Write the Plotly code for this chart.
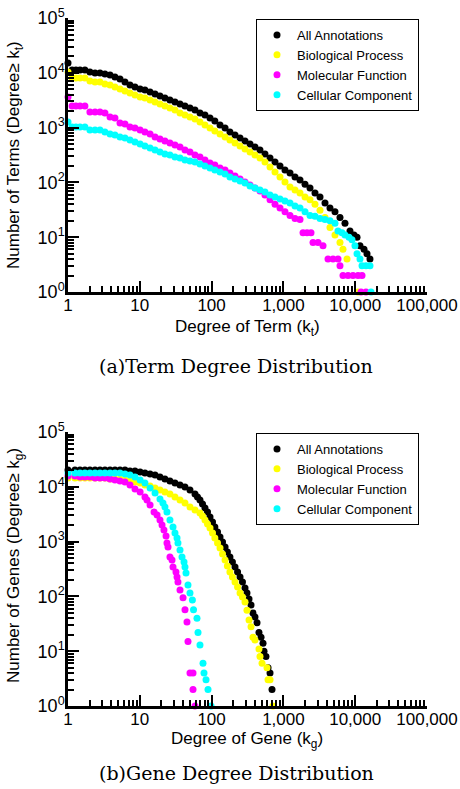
import plotly.graph_objects as go

# ---------------- (a) Term degree distribution ----------------
term_all_x = [1, 1.14, 1.29, 1.47, 1.72, 2.02, 2.38, 2.79, 3.27, 3.85, 4.51, 5.30, 6.22, 7.30, 8.57, 10.1,
              11.8, 13.9, 16.3, 19.1, 22.4, 26.3, 30.9, 36.3, 42.6, 50.0, 58.7, 68.9, 80.9, 95.0, 111, 131,
              154, 180, 212, 249, 292, 343, 402, 472, 554, 651, 764, 897, 1052, 1236, 1451, 1703, 2000,
              2347, 2755, 3234, 3796, 4456, 5231, 6140, 7207, 8460, 9620, 10600, 11660, 13270, 14600, 16060]
term_all_y = [15100, 11250, 11250, 11250, 11250, 10350, 9920, 9920, 9510, 9120, 8380, 7710, 6790, 5990, 5510,
              5060, 4850, 4460, 4100, 3780, 3470, 3190, 2930, 2700, 2480, 2280, 2090, 1850, 1700, 1500, 1320,
              1110, 984, 832, 733, 646, 569, 502, 443, 390, 330, 279, 236, 199, 168, 148, 126, 111, 93, 79,
              64, 54, 42, 34, 29, 23, 18, 13, 11, 10, 7, 6, 5, 4]

term_bp_x = [1, 1.14, 1.29, 1.47, 1.72, 2.02, 2.38, 2.79, 3.27, 3.85, 4.51, 5.30, 6.22, 7.30, 8.57, 10.1,
             11.8, 13.9, 16.3, 19.1, 22.4, 26.3, 30.9, 36.3, 42.6, 50.0, 58.7, 68.9, 80.9, 95.0, 111, 131,
             154, 180, 212, 249, 292, 343, 402, 472, 554, 651, 764, 897, 1052, 1236, 1451, 1703, 2000,
             2347, 2755, 3234, 3796, 4456, 5231, 6140, 6760, 7690, 10940]
term_bp_y = [10350, 8040, 8040, 8040, 8040, 7080, 6790, 6790, 6250, 5990, 5510, 5060, 4660, 4280, 3940, 3620,
             3470, 3190, 2930, 2700, 2480, 2280, 2090, 1850, 1700, 1560, 1435, 1270, 1110, 984, 867, 764,
             673, 594, 524, 462, 407, 359, 316, 279, 236, 191, 155, 126, 102, 82, 73, 64, 54, 48, 40, 31,
             23, 15, 11, 8, 6, 4, 1]

term_mf_x = [1, 1.14, 1.29, 1.47, 1.72, 2.02, 2.38, 2.79, 3.27, 3.85, 4.51, 5.30, 6.22, 7.30, 8.57, 10.1,
             11.8, 13.9, 16.3, 19.1, 22.4, 26.3, 30.9, 36.3, 42.6, 50.0, 58.7, 68.9, 80.9, 95.0, 111, 131,
             154, 180, 212, 249, 292, 343, 402, 472, 554, 651, 764, 897, 1052, 1236, 1451, 1703, 1875,
             2132, 2423, 2585, 3034, 3563, 4180, 4908, 5760, 6140, 6760, 7940, 9310, 10940, 12440, 12050,
             14130]
term_mf_y = [3620, 2480, 2480, 2480, 2480, 1930, 1930, 1930, 1850, 1560, 1500, 1210, 1160, 1030, 984, 904,
             832, 764, 673, 620, 569, 524, 481, 443, 390, 359, 316, 291, 256, 226, 208, 183, 168, 148, 131,
             115, 102, 90, 79, 70, 59, 48, 40, 34, 29, 25, 22, 21, 12, 12, 12, 8, 8, 7, 4, 4, 4, 3, 2, 2, 2,
             2, 2, 1, 1]

term_cc_x = [1, 1.14, 1.29, 1.47, 1.72, 2.02, 2.38, 2.79, 3.27, 3.85, 4.51, 5.30, 6.22, 7.30, 8.57, 10.1,
             11.8, 13.9, 16.3, 19.1, 22.4, 26.3, 30.9, 36.3, 42.6, 50.0, 58.7, 68.9, 80.9, 95.0, 111, 131,
             154, 180, 212, 249, 292, 343, 402, 472, 554, 651, 764, 897, 1052, 1236, 1451, 1703, 2000,
             2347, 2755, 3234, 3796, 4456, 5231, 5760, 6550, 7207, 8200, 9020, 9930, 10600, 11660, 12440,
             14130, 16060, 16600]
term_cc_y = [1270, 1030, 1030, 1030, 1030, 904, 904, 904, 832, 764, 733, 673, 646, 594, 546, 502, 462, 425,
             390, 359, 330, 316, 291, 279, 256, 246, 236, 217, 199, 183, 168, 155, 142, 126, 115, 106, 98,
             86, 79, 73, 67, 59, 54, 50, 46, 42, 37, 34, 29, 25, 24, 22, 21, 20, 18, 13, 12, 11, 10, 9, 7,
             5, 4, 3, 3, 3, 1]

# ---------------- (b) Gene degree distribution ----------------
gene_all_x = [1, 1.25, 1.47, 1.72, 2.02, 2.38, 2.79, 3.27, 3.85, 4.51, 5.30, 6.22, 7.30, 8.57, 10.1, 11.8,
              13.9, 16.3, 19.1, 22.4, 26.3, 30.9, 36.3, 42.6, 50.0, 58.7, 63.6, 68.9, 74.7, 80.9, 87.7, 95.0,
              103, 111, 121, 131, 142, 154, 166, 180, 195, 212, 230, 249, 269, 292, 311, 332, 354, 377, 402,
              429, 457, 488, 520, 537, 572, 611, 651, 694]
gene_all_y = [20300, 20300, 20300, 20300, 20300, 20300, 20300, 20300, 20300, 20300, 20300, 20300, 19400,
              19400, 18600, 17900, 17100, 16400, 15100, 13900, 12760, 11700, 10800, 9920, 8740, 7390, 6510,
              5750, 4850, 4100, 3470, 2810, 2280, 1850, 1500, 1210, 984, 797, 646, 524, 425, 344, 279, 226,
              183, 142, 115, 90, 70, 50, 42, 33, 22, 18, 14, 10, 8, 5, 4, 2]

gene_bp_x = [1, 1.25, 1.47, 1.72, 2.02, 2.38, 2.79, 3.27, 3.85, 4.51, 5.30, 6.22, 7.30, 8.57, 10.1, 11.8,
             13.9, 16.3, 19.1, 22.4, 26.3, 30.9, 36.3, 42.6, 50.0, 58.7, 68.9, 74.7, 80.9, 87.7, 95.0, 103,
             111, 121, 131, 142, 154, 166, 180, 195, 212, 230, 249, 269, 292, 311, 332, 354, 377, 402, 457,
             472, 504, 591, 611, 651, 716]
gene_bp_y = [14480, 14480, 14480, 14480, 14480, 14480, 14480, 14480, 13880, 13880, 13880, 13310, 12760,
             12240, 11730, 10790, 10350, 9510, 8740, 8040, 7390, 6510, 5750, 5060, 4280, 3780, 3330, 2930,
             2480, 2090, 1770, 1435, 1160, 943, 764, 594, 462, 359, 279, 226, 183, 148, 115, 97, 79, 56, 37,
             28, 18, 16, 11, 8, 6, 5, 3, 3, 1]

gene_mf_x = [1, 1.25, 1.47, 1.72, 2.02, 2.38, 2.79, 3.27, 3.85, 4.51, 5.30, 6.22, 7.30, 8.57, 10.1, 11.8,
             12.6, 13.9, 15.8, 17.4, 19.1, 20.4, 21.7, 23.2, 23.9, 24.7, 26.3, 28.1, 29.0, 31.9, 33.0, 34.0,
             36.3, 40.0, 42.6, 45.4, 46.9, 50.0, 55.1, 55.1, 58.7]
gene_mf_y = [15740, 15740, 15100, 15100, 15100, 14480, 14480, 14480, 13880, 13310, 12760, 12240, 10790,
             9120, 8040, 6510, 5750, 4660, 3470, 3060, 2480, 2010, 1630, 1270, 943, 797, 524, 462, 344, 279,
             226, 183, 131, 94, 57, 34, 15, 4, 4, 2, 1]

gene_cc_x = [1, 1.25, 1.47, 1.72, 2.02, 2.38, 2.79, 3.27, 3.85, 4.51, 5.30, 6.22, 7.30, 8.57, 10.1, 11.8,
             13.9, 16.3, 19.1, 21.0, 22.4, 23.9, 26.3, 29.0, 30.9, 33.0, 34.0, 36.3, 38.7, 41.3, 42.6, 44.0,
             46.9, 50.0, 54.0, 56.0, 62.6, 64.7, 68.9, 75.9, 78.4, 83.6, 89.1, 98.1]
gene_cc_y = [17860, 17860, 17860, 17860, 17860, 17860, 17860, 17860, 17860, 17860, 17860, 17100, 16410,
             15100, 13310, 11730, 9510, 7710, 5990, 5060, 4280, 3470, 2480, 1850, 1435, 1160, 943, 703, 524,
             425, 344, 267, 161, 115, 86, 57, 40, 22, 13, 6, 4, 3, 2, 1]

series_names = ["All Annotations", "Biological Process", "Molecular Function", "Cellular Component"]
series_colors = ["#000000", "#FFFF00", "#FF00FF", "#00FFFF"]

x_tick_vals = [1, 10, 100, 1000, 10000, 100000]
x_tick_text = ["1", "10", "100", "1,000", "10,000", "100,000"]
y_tick_vals = [1, 10, 100, 1000, 10000, 100000]
y_tick_text = ["10<sup>0</sup>", "10<sup>1</sup>", "10<sup>2</sup>", "10<sup>3</sup>", "10<sup>4</sup>",
               "10<sup>5</sup>"]
minor_vals = [m * 10 ** e for e in range(0, 5) for m in range(2, 10)]

W, H = 460, 789
SANS = "Liberation Sans, Arial, sans-serif"

fig = go.Figure()

top_sets = [(term_all_x, term_all_y), (term_bp_x, term_bp_y), (term_mf_x, term_mf_y), (term_cc_x, term_cc_y)]
bot_sets = [(gene_all_x, gene_all_y), (gene_bp_x, gene_bp_y), (gene_mf_x, gene_mf_y), (gene_cc_x, gene_cc_y)]

for (xs, ys), name, col in zip(top_sets, series_names, series_colors):
    fig.add_trace(go.Scatter(x=xs, y=ys, mode="markers", name=name, xaxis="x", yaxis="y",
                             marker=dict(color=col, size=7, line=dict(width=0)),
                             cliponaxis=False, legend="legend"))
for (xs, ys), name, col in zip(bot_sets, series_names, series_colors):
    fig.add_trace(go.Scatter(x=xs, y=ys, mode="markers", name=name, xaxis="x2", yaxis="y2",
                             marker=dict(color=col, size=7, line=dict(width=0)),
                             cliponaxis=False, legend="legend2"))


def px_x(p):
    return p / W


def px_y(p):
    return (H - p) / H


axis_common = dict(type="log", range=[0, 5], showline=True, linecolor="black", linewidth=2.5,
                   showgrid=False, zeroline=False, mirror=False, ticks="inside", ticklen=11,
                   tickwidth=2, tickcolor="black", automargin=False,
                   minor=dict(tickvals=minor_vals, ticks="inside", ticklen=6, tickwidth=1.5,
                              tickcolor="black", showgrid=False))

xdom = [px_x(68), px_x(427)]
xfont = dict(family=SANS, size=17, color="black")
yfont = dict(family=SANS, size=18, color="black")
leg_common = dict(xanchor="left", yanchor="top", bgcolor="white", bordercolor="black", borderwidth=1,
                  font=dict(family=SANS, size=13, color="black"), tracegroupgap=0)
fig.update_layout(
    template="none",
    width=W, height=H, margin=dict(l=0, r=0, t=0, b=0, pad=0),
    paper_bgcolor="white", plot_bgcolor="white",
    xaxis=dict(domain=xdom, anchor="y", tickvals=x_tick_vals, ticktext=x_tick_text,
               tickfont=xfont, ticklabelstandoff=-4, **axis_common),
    yaxis=dict(domain=[px_y(292), px_y(18)], anchor="x", tickvals=y_tick_vals, ticktext=y_tick_text,
               tickfont=yfont, ticklabelstandoff=-3, **axis_common),
    xaxis2=dict(domain=xdom, anchor="y2", tickvals=x_tick_vals, ticktext=x_tick_text,
                tickfont=xfont, ticklabelstandoff=-4, **axis_common),
    yaxis2=dict(domain=[px_y(706), px_y(432)], anchor="x2", tickvals=y_tick_vals, ticktext=y_tick_text,
                tickfont=yfont, ticklabelstandoff=-3, **axis_common),
    legend=dict(x=px_x(256), y=px_y(19), **leg_common),
    legend2=dict(x=px_x(256), y=px_y(433), **leg_common),
    showlegend=True,
)

ann_font = dict(family=SANS, size=17, color="black")
cap_font = dict(family="DejaVu Serif, serif", size=19, color="black")
fig.add_annotation(text="Degree of Term (k<sub>t</sub>)", x=px_x(247), y=px_y(328), xref="paper",
                   yref="paper", showarrow=False, font=ann_font, xanchor="center", yanchor="middle")
fig.add_annotation(text="Number of Terms (Degree\u2265 k<sub>t</sub>)", x=px_x(15), y=px_y(155),
                   xref="paper", yref="paper", showarrow=False, font=ann_font, textangle=-90,
                   xanchor="center", yanchor="middle")
fig.add_annotation(text="(a)Term Degree Distribution", x=px_x(236), y=px_y(366), xref="paper",
                   yref="paper", showarrow=False, font=cap_font, xanchor="center", yanchor="middle")
fig.add_annotation(text="Degree of Gene (k<sub>g</sub>)", x=px_x(247), y=px_y(740), xref="paper",
                   yref="paper", showarrow=False, font=ann_font, xanchor="center", yanchor="middle")
fig.add_annotation(text="Number of Genes (Degree\u2265 k<sub>g</sub>)", x=px_x(15), y=px_y(566),
                   xref="paper", yref="paper", showarrow=False, font=ann_font, textangle=-90,
                   xanchor="center", yanchor="middle")
fig.add_annotation(text="(b)Gene Degree Distribution", x=px_x(236), y=px_y(773), xref="paper",
                   yref="paper", showarrow=False, font=cap_font, xanchor="center", yanchor="middle")

fig.write_html("out.html", config={"displayModeBar": False},
               post_script="document.body.style.margin='0';")
